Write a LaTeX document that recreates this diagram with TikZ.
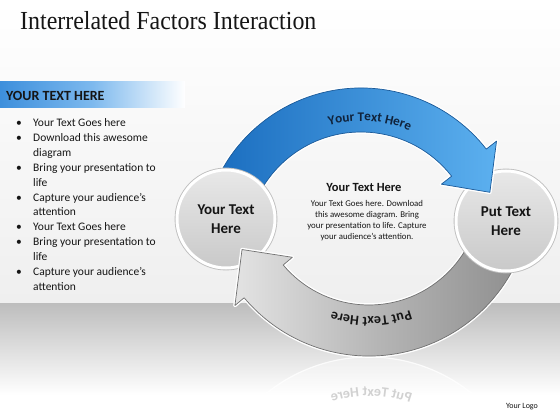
\documentclass[tikz,border=0pt]{standalone}
\usepackage{fontspec}
\setmainfont{Carlito}
\newfontfamily\titlefont{Liberation Serif}
\usetikzlibrary{calc,decorations.text}
\definecolor{bgA}{HTML}{EFEFEF}
\definecolor{bandT}{HTML}{BDBDBD}
\definecolor{hdrL}{HTML}{3D8FDC}
\definecolor{hdrM}{HTML}{7DB9EE}
\definecolor{blueL}{HTML}{1A6DBF}
\definecolor{blueR}{HTML}{5CB0EF}
\definecolor{blueD}{HTML}{1B5A99}
\definecolor{grayL}{HTML}{E3E3E3}
\definecolor{grayM}{HTML}{B5B5B5}
\definecolor{grayR}{HTML}{8E8E8E}
\definecolor{grayD}{HTML}{707070}
\definecolor{cTop}{HTML}{E8E8E8}
\definecolor{cBot}{HTML}{C9C9C9}
\definecolor{cRing}{HTML}{BFBFBF}
\definecolor{txtdark}{HTML}{151515}
\definecolor{navy}{HTML}{10233C}
\begin{document}
\begin{tikzpicture}[x=1pt,y=1pt,
  bodytxt/.style={anchor=base west, inner sep=0, font=\fontsize{11.5}{11.5}\selectfont, text=txtdark},
  ctxt/.style={anchor=base, inner sep=0, font=\fontsize{8.8}{8.8}\selectfont, text=txtdark},
  bluearrow/.style={preaction={draw=white, line width=3.5, line join=round}, left color=blueL, right color=blueR, draw=blueD, line width=0.7, line join=round},
  grayarrow/.style={preaction={draw=white, line width=3.5, line join=round}, left color=grayL, right color=grayR, middle color=grayM, draw=grayD, line width=0.7, line join=round},
  ball/.style={circle, minimum size=#1, inner sep=0, top color=cTop, bottom color=cBot, draw=white, line width=3, preaction={draw=cRing, line width=4.8}, align=center, font=\bfseries\fontsize{15}{19}\selectfont, text=txtdark}]
\useasboundingbox (0,0) rectangle (560,-420);
% background
\fill[top color=white, bottom color=bgA] (0,0) rectangle (560,-303);
\fill[top color=bandT, bottom color=white] (0,-303) rectangle (560,-395);
\fill[white] (0,-395) rectangle (560,-420);
% header bar
\fill[left color=hdrL, right color=white, middle color=hdrM] (0,-82) rectangle (185,-108);
\node[anchor=base west, inner sep=0, font=\bfseries\fontsize{14}{14}\selectfont, text=txtdark] (hdr) at (6,-100) {YOUR TEXT HERE};
% title
\node[anchor=base west, inner sep=0, font=\titlefont\fontsize{26}{26}\selectfont, text=txtdark] (title) at (20,-30) {\scalebox{0.92}[1]{Interrelated Factors Interaction}};
% bullets
\foreach \t/\b [count=\i from 0] in {Your Text Goes here/1, Download this awesome/1, diagram/0, Bring your presentation to/1, life/0, Capture your audience’s/1, attention/0, Your Text Goes here/1, Bring your presentation to/1, life/0, Capture your audience’s/1, attention/0}{
  \node[bodytxt] (l\i) at (33,{-126.5-14.9*\i}) {\t};
  \ifnum\b=1 \node[bodytxt] (d\i) at (16,{-126.5-14.9*\i}) {•};\fi
}
% centre text
\node[anchor=base, inner sep=0, font=\bfseries\fontsize{12.5}{12.5}\selectfont, text=txtdark] (ch) at (364,-191) {Your Text Here};
\node[ctxt] (c1) at (367,-206) {Your Text Goes here. Download};
\node[ctxt] (c2) at (367,-217.2) {this awesome diagram. Bring};
\node[ctxt] (c3) at (367,-228.4) {your presentation to life. Capture};
\node[ctxt] (c4) at (367,-239.6) {your audience’s attention.};
% blue arrow
\path[bluearrow, shift={(361,-247)}] (158:159) arc[start angle=158, end angle=38, radius=159] -- (38:172) -- (23:140) -- (38:102) -- (38:115) arc[start angle=38, end angle=158, radius=115] -- cycle;
% left circle
\node[ball=98] (L) at (226,-219) {Your Text\\Here};
% gray arrow
\path[grayarrow, shift={(369,-193)}] (340:163) arc[start angle=340, end angle=220, radius=163] -- (220:175) -- (204:139) -- (220:100) -- (220:112) arc[start angle=220, end angle=340, radius=112] -- cycle;
% right circle
\node[ball=100] (R) at (506,-221) {Put Text\\Here};
% blue arrow head again over right circle
\begin{scope}
\clip (430,-100) rectangle (540,-205);
\path[bluearrow, shift={(361,-247)}] (158:159) arc[start angle=158, end angle=38, radius=159] -- (38:172) -- (23:140) -- (38:102) -- (38:115) arc[start angle=38, end angle=158, radius=115] -- cycle;
\end{scope}
% arc texts
\path[shift={(361,-247)}, decorate, decoration={text along path, text={|\bfseries\fontsize{13.2}{13.2}\selectfont\color{navy}|Your Text Here}, text align=center}] (126:126) arc[start angle=126, end angle=46, radius=126];
\path[shift={(369,-193)}, decorate, decoration={text along path, text={|\bfseries\fontsize{14}{14}\selectfont\color{txtdark}|Put Text Here}, text align=center}] (311:124) arc[start angle=311, end angle=231, radius=124];
% reflection
\begin{scope}
\clip (220,-357) rectangle (545,-402);
\begin{scope}[transform canvas={shift={(0,-713)}, yscale=-1}]
\path[shift={(369,-193)}, fill=white, fill opacity=0.4, draw=white, draw opacity=0.8, line width=1.2] (340:163) arc[start angle=340, end angle=220, radius=163] -- (220:175) -- (204:139) -- (220:100) -- (220:112) arc[start angle=220, end angle=340, radius=112] -- cycle;
\path[shift={(369,-193)}, decorate, decoration={text along path, text={|\bfseries\fontsize{14}{14}\selectfont\color{black!18}|Put Text Here}, text align=center}] (311:124) arc[start angle=311, end angle=231, radius=124];
\end{scope}
\end{scope}
% logo
\node[anchor=base, inner sep=0, font=\fontsize{8}{8}\selectfont, text=txtdark] (logo) at (522,-408) {Your Logo};
\end{tikzpicture}
\end{document}
